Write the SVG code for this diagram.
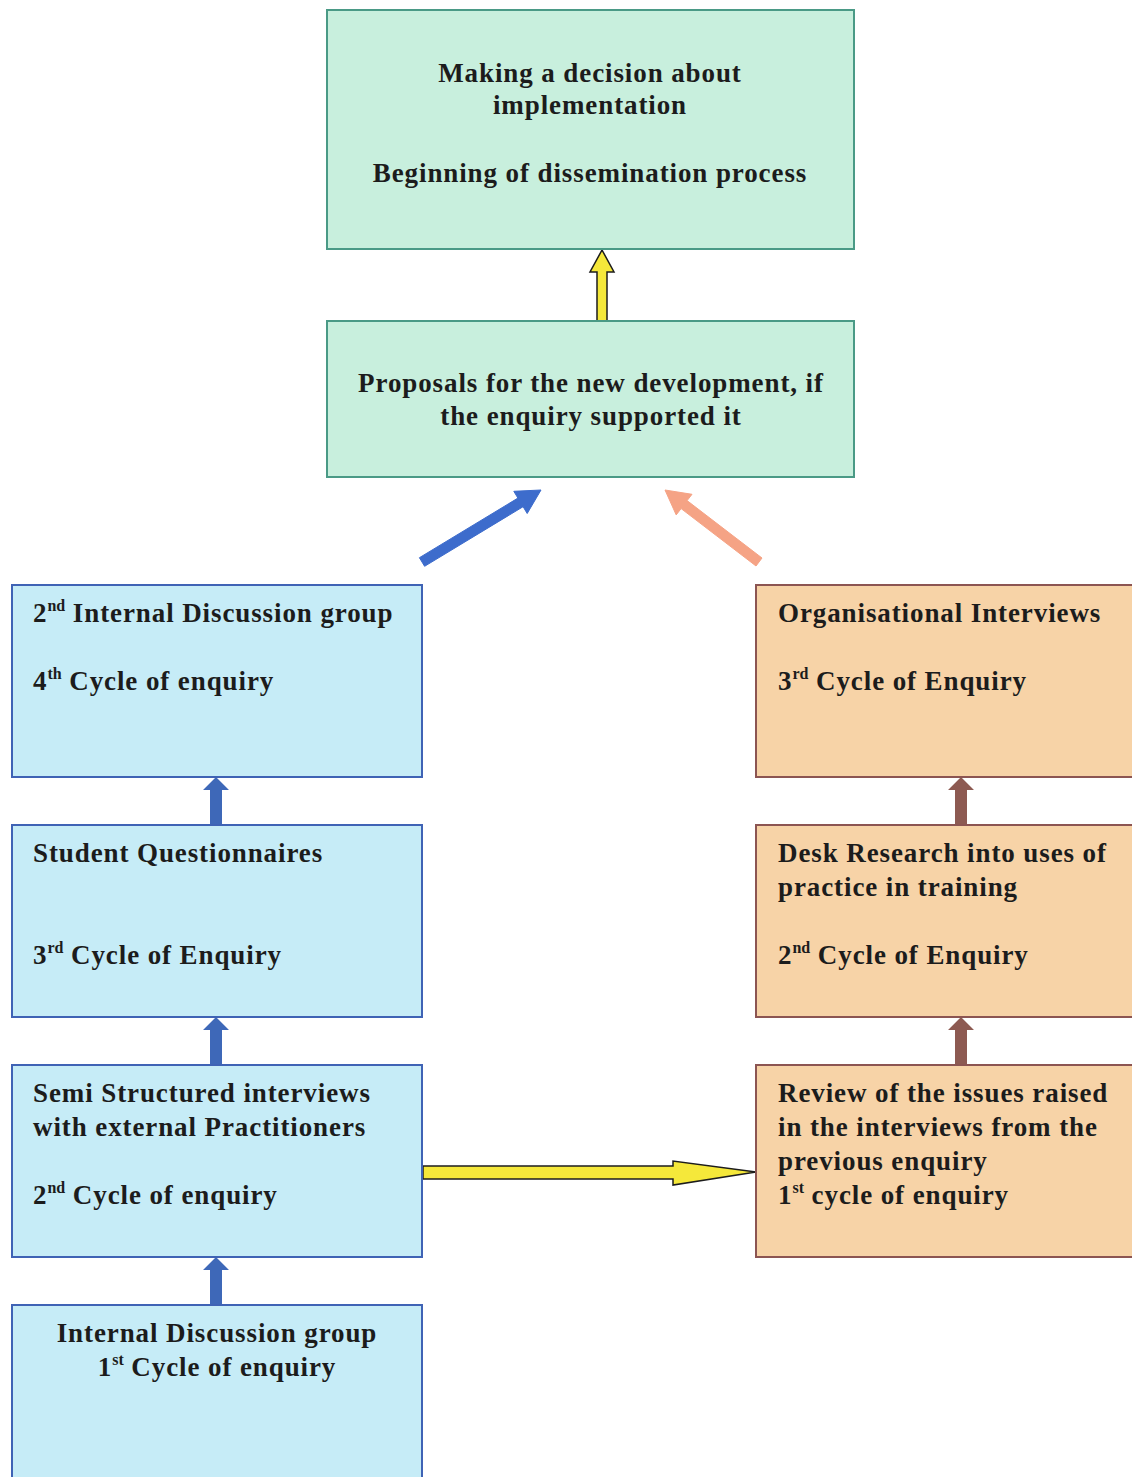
<svg xmlns="http://www.w3.org/2000/svg" width="1132" height="1477" viewBox="0 0 1132 1477">
<style>
text{font-family:"Liberation Serif","Times New Roman",serif;font-weight:bold;font-size:27px;letter-spacing:0.9px;fill:#1c1c1c}
.sup{font-size:16px;letter-spacing:0}
.c{text-anchor:middle}
.green{fill:#c8efdd;stroke:#4a9a86;stroke-width:2}
.blue{fill:#c6ecf7;stroke:#3f63b5;stroke-width:2}
.orange{fill:#f7d3a7;stroke:#8c5552;stroke-width:2}
</style>
<rect width="1132" height="1477" fill="#ffffff"/>
<g id="connectors">
<polygon points="597,321 607,321 607,272 614,272 602,250 590,272 597,272" fill="#f5e83a" stroke="#1c1c1c" stroke-width="1.5"/>
<polygon points="419.4,557.7 517.9,498.1 513.8,491.3 541,490 527.2,513.5 523.1,506.7 424.6,566.3" fill="#3d6ccc" stroke="#3d6ccc" stroke-width="1"/>
<polygon points="762,558 687.1,500.6 692,494.3 665,490 676.2,514.9 681.1,508.6 756,566" fill="#f5a385" stroke="#f5a385" stroke-width="1"/>
<polygon points="210,825 222,825 222,790 229,790 216,777 203,790 210,790" fill="#3e68b8"/>
<polygon points="210,1065 222,1065 222,1030 229,1030 216,1017 203,1030 210,1030" fill="#3e68b8"/>
<polygon points="210,1305 222,1305 222,1270 229,1270 216,1257 203,1270 210,1270" fill="#3e68b8"/>
<polygon points="955,825 967,825 967,790 974,790 961,777 948,790 955,790" fill="#8d5a52"/>
<polygon points="955,1065 967,1065 967,1030 974,1030 961,1017 948,1030 955,1030" fill="#8d5a52"/>
<polygon points="423,1166 673,1166 673,1161 756,1172 673,1185 673,1179 423,1179" fill="#f5e83a" stroke="#1c1c1c" stroke-width="1.5"/>
</g>
<g id="node-decision">
<rect class="green" x="327" y="10" width="527" height="239"/>
<text class="c" x="590" y="82">Making a decision about</text>
<text class="c" x="590" y="114">implementation</text>
<text class="c" x="590" y="182">Beginning of dissemination process</text>
</g>
<g id="node-proposals">
<rect class="green" x="327" y="321" width="527" height="156"/>
<text class="c" x="591" y="392">Proposals for the new development, if</text>
<text class="c" x="591" y="425">the enquiry supported it</text>
</g>
<g id="node-left4">
<rect class="blue" x="12" y="585" width="410" height="192"/>
<text x="33" y="622">2<tspan class="sup" dy="-11">nd</tspan><tspan dy="11"> Internal Discussion group</tspan></text>
<text x="33" y="690">4<tspan class="sup" dy="-11">th</tspan><tspan dy="11"> Cycle of enquiry</tspan></text>
</g>
<g id="node-left3">
<rect class="blue" x="12" y="825" width="410" height="192"/>
<text x="33" y="862">Student Questionnaires</text>
<text x="33" y="964">3<tspan class="sup" dy="-11">rd</tspan><tspan dy="11"> Cycle of Enquiry</tspan></text>
</g>
<g id="node-left2">
<rect class="blue" x="12" y="1065" width="410" height="192"/>
<text x="33" y="1102">Semi Structured interviews</text>
<text x="33" y="1136">with external Practitioners</text>
<text x="33" y="1204">2<tspan class="sup" dy="-11">nd</tspan><tspan dy="11"> Cycle of enquiry</tspan></text>
</g>
<g id="node-left1">
<rect class="blue" x="12" y="1305" width="410" height="200"/>
<text class="c" x="217" y="1342">Internal Discussion group</text>
<text class="c" x="217" y="1376">1<tspan class="sup" dy="-11">st</tspan><tspan dy="11"> Cycle of enquiry</tspan></text>
</g>
<g id="node-right3">
<rect class="orange" x="756" y="585" width="400" height="192"/>
<text x="778" y="622">Organisational Interviews</text>
<text x="778" y="690">3<tspan class="sup" dy="-11">rd</tspan><tspan dy="11"> Cycle of Enquiry</tspan></text>
</g>
<g id="node-right2">
<rect class="orange" x="756" y="825" width="400" height="192"/>
<text x="778" y="862">Desk Research into uses of</text>
<text x="778" y="896">practice in training</text>
<text x="778" y="964">2<tspan class="sup" dy="-11">nd</tspan><tspan dy="11"> Cycle of Enquiry</tspan></text>
</g>
<g id="node-right1">
<rect class="orange" x="756" y="1065" width="400" height="192"/>
<text x="778" y="1102">Review of the issues raised</text>
<text x="778" y="1136">in the interviews from the</text>
<text x="778" y="1170">previous enquiry</text>
<text x="778" y="1204">1<tspan class="sup" dy="-11">st</tspan><tspan dy="11"> cycle of enquiry</tspan></text>
</g>
</svg>
